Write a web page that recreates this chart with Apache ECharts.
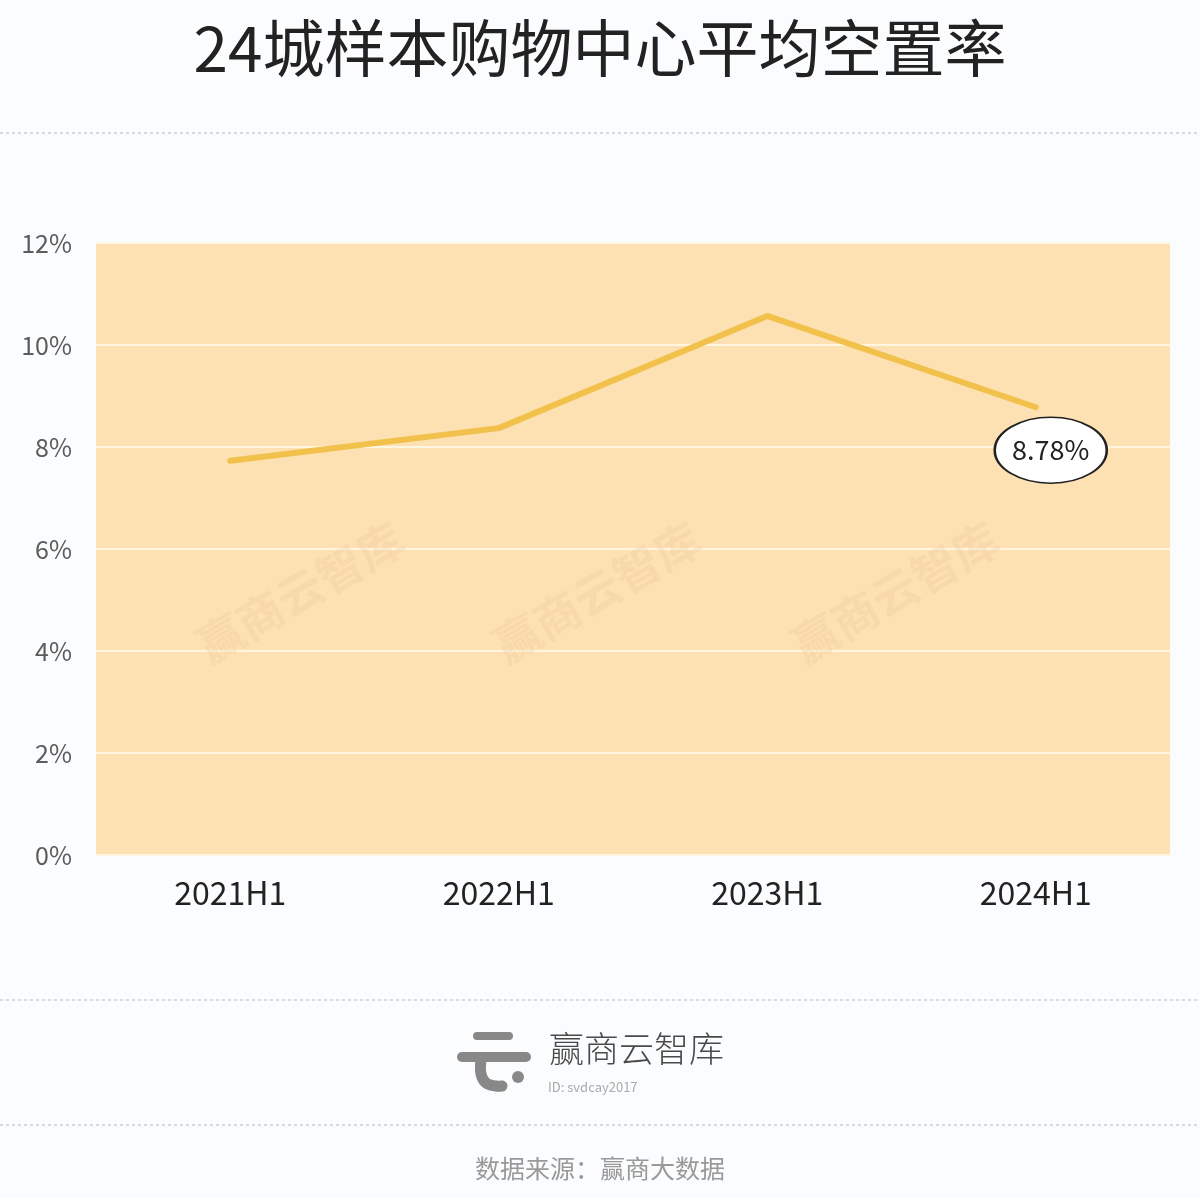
<!DOCTYPE html>
<html>
<head>
<meta charset="utf-8">
<title>24城样本购物中心平均空置率</title>
<script src="https://cdn.jsdelivr.net/npm/echarts@6/dist/echarts.min.js"></script>
<style>
  html, body { margin: 0; padding: 0; background: #fbfcfe; }
  #main { width: 1200px; height: 1198px; }
</style>
</head>
<body>
<div id="main"></div>
<script>
// data (percent)
var categories = ['2021H1', '2022H1', '2023H1', '2024H1'];
var vacancy = [7.73, 8.37, 10.57, 8.78];
var yTicks = { min: 0, max: 12, step: 2 };
var titleText = '24城样本购物中心平均空置率';
var sourceText = '数据来源：赢商大数据';
var brandText = '赢商云智库';

var font = '"Noto Sans CJK SC", "Noto Sans", sans-serif';
var myChart = echarts.init(document.getElementById('main'));

var watermarks = [];
[300, 597, 895].forEach(function (cx) {
    watermarks.push({
        type: 'text',
        x: cx, y: 592,
        rotation: Math.PI / 6,
        z: 1,
        style: {
            text: brandText,
            font: 'bold 46px ' + font,
            fill: 'rgba(232, 196, 150, 0.25)',
            align: 'center',
            verticalAlign: 'middle'
        }
    });
});

var option = {
    backgroundColor: '#fbfcfe',
    title: {
        text: titleText,
        left: 'center',
        top: 12,
        textStyle: {
            fontFamily: font,
            fontSize: 62,
            fontWeight: 400,
            color: '#222'
        }
    },
    grid: {
        show: true,
        left: 96,
        right: 30,
        top: 243,
        bottom: 343,
        backgroundColor: '#fee1b3',
        borderWidth: 0
    },
    xAxis: {
        type: 'category',
        data: categories,
        boundaryGap: true,
        axisLine: { show: false },
        axisTick: { show: false },
        axisLabel: {
            margin: 22,
            fontFamily: font,
            fontSize: 32,
            color: '#222'
        }
    },
    yAxis: {
        type: 'value',
        min: yTicks.min,
        max: yTicks.max,
        interval: yTicks.step,
        axisLine: { show: false },
        axisTick: { show: false },
        axisLabel: {
            margin: 24,
            fontFamily: font,
            fontSize: 25,
            color: '#5c5c5c',
            formatter: '{value}%'
        },
        splitLine: {
            lineStyle: { color: '#fff6e2', width: 2 }
        }
    },
    series: [{
        type: 'line',
        data: vacancy,
        showSymbol: false,
        symbol: 'none',
        z: 3,
        lineStyle: { color: '#f2c14c', width: 6, cap: 'round', join: 'round' },
        markPoint: {
            symbol: 'circle',
            symbolSize: [112, 66],
            symbolOffset: [15, 43],
            itemStyle: { color: '#fff', borderColor: '#222', borderWidth: 2 },
            label: {
                show: true,
                position: 'inside',
                fontFamily: font,
                fontSize: 27,
                color: '#222',
                formatter: function (p) { return p.value + '%'; }
            },
            data: [{
                coord: [categories.length - 1, vacancy[vacancy.length - 1]],
                value: vacancy[vacancy.length - 1]
            }]
        }
    }],
    graphic: watermarks.concat([
        // dotted separators
        { type: 'line', shape: { x1: 0, y1: 133, x2: 1200, y2: 133 },
          style: { stroke: '#d9dade', lineWidth: 2, lineDash: [3, 3] } },
        { type: 'line', shape: { x1: 0, y1: 1000, x2: 1200, y2: 1000 },
          style: { stroke: '#d9dade', lineWidth: 2, lineDash: [3, 3] } },
        { type: 'line', shape: { x1: 0, y1: 1125, x2: 1200, y2: 1125 },
          style: { stroke: '#d9dade', lineWidth: 2, lineDash: [3, 3] } },
        // logo icon
        { type: 'line', shape: { x1: 477, y1: 1036, x2: 509, y2: 1036 },
          style: { stroke: '#888', lineWidth: 8, lineCap: 'round' } },
        { type: 'line', shape: { x1: 462, y1: 1057, x2: 526, y2: 1057 },
          style: { stroke: '#888', lineWidth: 10, lineCap: 'round' } },
        { type: 'polyline', shape: { points: [[481, 1060], [481, 1074], [486, 1083], [496, 1086], [502, 1086]], smooth: 0.4 },
          style: { stroke: '#888', lineWidth: 11, lineCap: 'round', fill: null } },
        { type: 'circle', shape: { cx: 518, cy: 1077, r: 6 }, style: { fill: '#888' } },
        { type: 'text', x: 549, y: 1049,
          style: { text: brandText, font: '300 35px ' + font, fill: '#4a4a4a', verticalAlign: 'middle' } },
        { type: 'text', x: 548, y: 1087,
          style: { text: 'ID: svdcay2017', font: '13px ' + font, fill: '#aaa', verticalAlign: 'middle' } },
        { type: 'text', x: 600, y: 1168,
          style: { text: sourceText, font: '25px ' + font, fill: '#999', align: 'center', verticalAlign: 'middle' } }
    ])
};

myChart.setOption(option);

window.onresize = function () {
    myChart.resize();
};
</script>
</body>
</html>
